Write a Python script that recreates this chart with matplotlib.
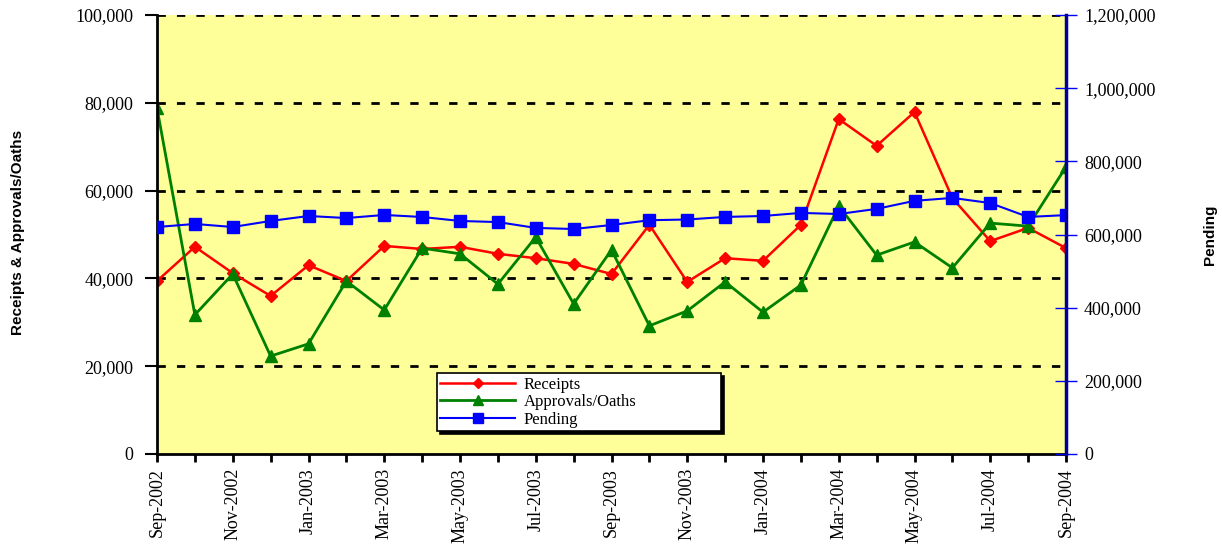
import matplotlib.pyplot as plt
import numpy as np
from matplotlib.ticker import FuncFormatter

# monthly data, Sep-2002 .. Sep-2004
months = ["Sep-2002", "Oct-2002", "Nov-2002", "Dec-2002", "Jan-2003", "Feb-2003",
          "Mar-2003", "Apr-2003", "May-2003", "Jun-2003", "Jul-2003", "Aug-2003",
          "Sep-2003", "Oct-2003", "Nov-2003", "Dec-2003", "Jan-2004", "Feb-2004",
          "Mar-2004", "Apr-2004", "May-2004", "Jun-2004", "Jul-2004", "Aug-2004",
          "Sep-2004"]
receipts = [39400, 47200, 41200, 36000, 43000, 39400, 47400, 46700, 47200, 45600,
            44600, 43300, 41000, 52200, 39200, 44600, 44000, 52200, 76300, 70200,
            77900, 58300, 48500, 51500, 46900]
approvals = [78800, 31700, 41000, 22300, 25100, 39400, 32800, 46900, 45600, 38700,
             49400, 34200, 46500, 29200, 32600, 39200, 32300, 38500, 56500, 45300,
             48300, 42400, 52600, 51900, 65400]
pending = [620500, 628800, 620500, 637000, 650600, 645000, 653400, 647900, 637000,
           634000, 618000, 615000, 626000, 639000, 641000, 648000, 650600, 659000,
           656000, 670000, 692000, 700000, 686000, 648000, 653000]

x = np.arange(len(months))
serif = 'Liberation Serif'

fig = plt.figure(figsize=(12.22, 5.45), dpi=100)
ax = fig.add_axes([157/1222, 1 - 454/545, 909/1222, 439/545])
ax.set_facecolor('#FFFF99')
ax2 = ax.twinx()

l1, = ax.plot(x, receipts, color='red', lw=1.8, marker='D', markersize=6.5, label='Receipts')
l2, = ax.plot(x, approvals, color='green', lw=2, marker='^', markersize=9, label='Approvals/Oaths')
l3, = ax2.plot(x, pending, color='blue', lw=1.5, marker='s', markersize=8, label='Pending')

ax.set_xlim(0, len(months) - 1)
ax.set_ylim(0, 100000)
ax2.set_ylim(0, 1200000)

for g in [20000, 40000, 60000, 80000, 100000]:
    ax.axhline(g, color='black', lw=2, ls=(0, (3, 4)), zorder=1)

fmt = FuncFormatter(lambda v, p: f"{int(v):,}")
ax.set_yticks(np.arange(0, 100001, 20000))
ax.yaxis.set_major_formatter(fmt)
ax2.set_yticks(np.arange(0, 1200001, 200000))
ax2.yaxis.set_major_formatter(fmt)

ax.set_xticks(x)
ax.set_xticklabels([m if i % 2 == 0 else '' for i, m in enumerate(months)],
                   rotation=90, fontfamily=serif, fontsize=13)
ax.tick_params(axis='x', direction='out', length=6, width=2, pad=4)
ax.tick_params(axis='y', direction='out', length=9, width=1.5, labelsize=13, pad=8)
for t in ax.get_yticklabels():
    t.set_fontfamily(serif)
ax2.tick_params(axis='y', direction='inout', length=16, width=1, color='blue',
                labelsize=13, pad=5)
for t in ax2.get_yticklabels():
    t.set_fontfamily(serif)

for a in (ax, ax2):
    a.spines['top'].set_visible(False)
ax.spines['left'].set_linewidth(2)
ax.spines['bottom'].set_linewidth(2)
ax.spines['right'].set_visible(False)
ax2.spines['left'].set_visible(False)
ax2.spines['bottom'].set_visible(False)
ax2.spines['right'].set_color('#000099')
ax2.spines['right'].set_linewidth(2.5)

fig.text(18/1222, 1 - 232/545, 'Receipts & Approvals/Oaths', rotation=90, ha='center',
         va='center', fontsize=11, fontweight='bold', family='Liberation Sans')
fig.text(1210/1222, 1 - 235/545, 'Pending', rotation=90, ha='center', va='center',
         fontsize=11, fontweight='bold', family='Liberation Sans')

leg = ax2.legend(handles=[l1, l2, l3], loc='lower left',
                 bbox_to_anchor=(0.308, 0.052, 0.313, 0.134), mode='expand',
                 prop={'family': serif, 'size': 12}, frameon=True, fancybox=False,
                 shadow={'color': 'black', 'alpha': 1}, borderpad=0.2, labelspacing=0.1,
                 handlelength=4.5, handletextpad=0.5, borderaxespad=0, markerscale=0.85)
leg.get_frame().set_edgecolor('black')
leg.get_frame().set_linewidth(1.2)

fig.savefig('out.png', dpi=100)
